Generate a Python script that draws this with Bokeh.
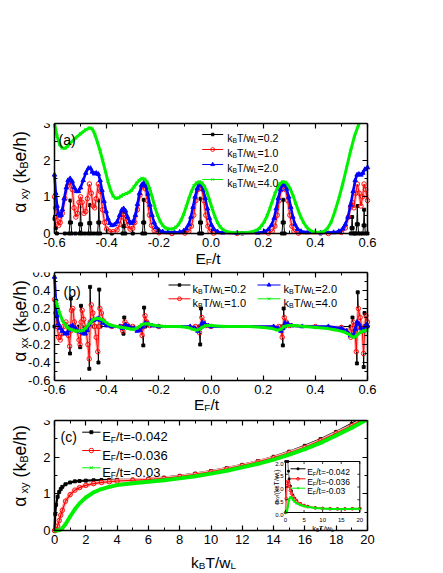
import math
from bokeh.plotting import figure
from bokeh.models import Range1d, LinearAxis, FixedTicker, Label
from bokeh.layouts import column
from bokeh.embed import file_html
from bokeh.resources import INLINE

FONT = "Liberation Sans"
NAN = float("nan")

# ---------------- panel (a): alpha_xy vs E_F/t ----------------
a_k02_x = [-0.600, -0.598, -0.595, -0.591,
           -0.560, -0.544, -0.541, -0.539, -0.537, -0.534,
           -0.520, -0.505, -0.502, -0.500, -0.498, -0.495,
           -0.483, -0.470, -0.467, -0.465, -0.463, -0.460,
           -0.448, -0.435, -0.432, -0.430, -0.428, -0.425,
           -0.380, -0.339, -0.336, -0.334, -0.332, -0.329,
           -0.300, -0.263, -0.260, -0.258, -0.256, -0.253,
           -0.150, -0.045, -0.042, -0.040, -0.038, -0.035,
           0.120, 0.272, 0.275, 0.277, 0.279, 0.282,
           0.420, 0.536, 0.539, 0.541, 0.543, 0.546,
           0.551, 0.556, 0.559, 0.561, 0.563, 0.566,
           0.574, 0.582, 0.585, 0.587, 0.589, 0.592,
           0.600]
a_k02_y = [0.40, 0.45, 0.15, 0.00,
           0.00, 0.00, 0.30, 0.90, 0.30, 0.00,
           0.00, 0.00, 0.25, 0.75, 0.25, 0.00,
           0.00, 0.00, 0.28, 0.78, 0.28, 0.00,
           0.00, 0.00, 0.30, 0.90, 0.30, 0.00,
           0.00, 0.00, 0.20, 0.57, 0.20, 0.00,
           0.00, 0.00, 0.30, 0.92, 0.30, 0.00,
           0.00, 0.00, 0.30, 0.95, 0.30, 0.00,
           0.00, 0.00, 0.30, 0.92, 0.30, 0.00,
           0.00, 0.00, 0.15, 0.45, 0.15, 0.00,
           0.00, 0.00, 0.25, 0.75, 0.25, 0.00,
           0.00, 0.00, 0.22, 0.65, 0.22, 0.00,
           0.00]

a_k10_x = [-0.600, -0.596, -0.590, -0.584, -0.578, -0.570, -0.560, -0.550, -0.540, -0.532,
           -0.525, -0.518, -0.512, -0.506, -0.500, -0.494, -0.487, -0.480, -0.474, -0.466,
           -0.459, -0.452, -0.446, -0.440, -0.432, -0.424, -0.416, -0.408, -0.400, -0.390,
           -0.375, -0.360, -0.350, -0.342, -0.335, -0.328, -0.320, -0.310, -0.300, -0.292,
           -0.282, -0.272, -0.264, -0.258, -0.252, -0.244, -0.236, -0.228, -0.218, -0.200,
           -0.150, -0.100, -0.085, -0.075, -0.066, -0.058, -0.050, -0.042, -0.035, -0.028,
           -0.020, -0.012, -0.004, 0.010, 0.100, 0.220, 0.235, 0.245, 0.254, 0.262,
           0.270, 0.278, 0.286, 0.294, 0.302, 0.310, 0.318, 0.335, 0.450, 0.500,
           0.515, 0.527, 0.535, 0.541, 0.548, 0.555, 0.561, 0.568, 0.575, 0.581,
           0.587, 0.593, 0.600]
a_k10_y = [1.00, 0.70, 0.35, 0.22, 0.30, 0.55, 0.95, 1.30, 1.40, 1.20,
           0.70, 0.45, 0.55, 0.85, 1.00, 0.85, 0.55, 0.60, 0.95, 1.35,
           1.10, 0.75, 0.70, 0.95, 1.35, 1.15, 0.65, 0.30, 0.12, 0.06,
           0.05, 0.10, 0.25, 0.45, 0.52, 0.42, 0.22, 0.12, 0.14, 0.30,
           0.65, 1.05, 1.28, 1.32, 1.22, 0.90, 0.50, 0.22, 0.08, 0.02,
           0.00, 0.01, 0.06, 0.20, 0.50, 0.90, 1.20, 1.32, 1.22, 0.90,
           0.50, 0.20, 0.06, 0.01, 0.00, 0.01, 0.06, 0.20, 0.50, 0.90,
           1.20, 1.32, 1.20, 0.90, 0.50, 0.20, 0.06, 0.01, 0.00, 0.03,
           0.15, 0.45, 0.72, 0.85, 0.70, 1.10, 1.35, 1.10, 0.75, 1.00,
           1.35, 1.20, 0.90]

a_k20_x = [-0.600, -0.595, -0.590, -0.585, -0.580, -0.575, -0.570, -0.563, -0.555, -0.548,
           -0.540, -0.532, -0.524, -0.516, -0.508, -0.500, -0.490, -0.480, -0.470, -0.462,
           -0.455, -0.447, -0.440, -0.432, -0.425, -0.418, -0.410, -0.402, -0.395, -0.388,
           -0.380, -0.370, -0.360, -0.350, -0.342, -0.335, -0.328, -0.320, -0.312, -0.305,
           -0.298, -0.290, -0.282, -0.274, -0.266, -0.258, -0.250, -0.242, -0.234, -0.226,
           -0.218, -0.210, -0.200, -0.185, -0.165, -0.140, -0.120, -0.105, -0.095, -0.085,
           -0.077, -0.069, -0.061, -0.053, -0.045, -0.038, -0.030, -0.022, -0.014, -0.006,
           0.002, 0.012, 0.025, 0.045, 0.100, 0.180, 0.205, 0.220, 0.232, 0.242,
           0.250, 0.258, 0.266, 0.274, 0.282, 0.290, 0.298, 0.306, 0.314, 0.322,
           0.332, 0.345, 0.370, 0.420, 0.470, 0.490, 0.505, 0.515, 0.525, 0.535,
           0.545, 0.553, 0.560, 0.567, 0.575, 0.582, 0.590, 0.600]
a_k20_y = [1.60, 1.10, 0.75, 0.55, 0.48, 0.50, 0.65, 0.95, 1.25, 1.45,
           1.50, 1.42, 1.25, 1.15, 1.15, 1.25, 1.45, 1.65, 1.78, 1.78,
           1.68, 1.63, 1.65, 1.62, 1.45, 1.18, 0.88, 0.60, 0.40, 0.28,
           0.22, 0.24, 0.32, 0.50, 0.64, 0.68, 0.62, 0.45, 0.32, 0.28,
           0.33, 0.50, 0.80, 1.10, 1.32, 1.38, 1.30, 1.08, 0.78, 0.50,
           0.30, 0.17, 0.09, 0.05, 0.03, 0.03, 0.04, 0.07, 0.13, 0.25,
           0.45, 0.72, 1.00, 1.22, 1.34, 1.33, 1.20, 0.96, 0.68, 0.42,
           0.23, 0.11, 0.05, 0.02, 0.01, 0.02, 0.05, 0.11, 0.23, 0.42,
           0.68, 0.96, 1.20, 1.33, 1.34, 1.22, 1.00, 0.72, 0.45, 0.25,
           0.12, 0.06, 0.03, 0.02, 0.03, 0.06, 0.13, 0.25, 0.45, 0.78,
           1.15, 1.45, 1.60, 1.62, 1.60, 1.65, 1.75, 1.80]

a_k40_x = [-0.600, -0.590, -0.580, -0.570, -0.560, -0.550, -0.540, -0.520, -0.500, -0.480,
           -0.465, -0.455, -0.445, -0.435, -0.425, -0.415, -0.405, -0.395, -0.385, -0.375,
           -0.365, -0.355, -0.345, -0.335, -0.325, -0.315, -0.305, -0.295, -0.285, -0.275,
           -0.265, -0.255, -0.245, -0.235, -0.225, -0.215, -0.205, -0.195, -0.185, -0.175,
           -0.165, -0.155, -0.145, -0.135, -0.125, -0.115, -0.105, -0.095, -0.085, -0.075,
           -0.065, -0.055, -0.045, -0.035, -0.025, -0.015, -0.005, 0.005, 0.015, 0.025,
           0.035, 0.045, 0.060, 0.080, 0.110, 0.140, 0.160, 0.175, 0.185, 0.195,
           0.205, 0.215, 0.225, 0.235, 0.245, 0.255, 0.265, 0.275, 0.285, 0.295,
           0.305, 0.315, 0.325, 0.335, 0.345, 0.355, 0.365, 0.375, 0.390, 0.410,
           0.430, 0.445, 0.460, 0.475, 0.490, 0.505, 0.520, 0.535, 0.550, 0.565,
           0.580, 0.590]
a_k40_y = [3.00, 2.65, 2.42, 2.33, 2.32, 2.38, 2.46, 2.60, 2.72, 2.83,
           2.88, 2.85, 2.70, 2.48, 2.25, 1.98, 1.70, 1.42, 1.18, 1.02,
           0.96, 0.97, 1.02, 1.06, 1.09, 1.12, 1.18, 1.27, 1.37, 1.45,
           1.50, 1.49, 1.40, 1.22, 0.98, 0.72, 0.50, 0.33, 0.22, 0.15,
           0.13, 0.12, 0.13, 0.17, 0.24, 0.36, 0.52, 0.73, 0.95, 1.15,
           1.30, 1.38, 1.41, 1.38, 1.28, 1.12, 0.90, 0.67, 0.46, 0.30,
           0.18, 0.11, 0.05, 0.03, 0.02, 0.03, 0.05, 0.09, 0.14, 0.22,
           0.33, 0.48, 0.67, 0.88, 1.08, 1.25, 1.36, 1.41, 1.40, 1.33,
           1.20, 1.02, 0.82, 0.62, 0.44, 0.30, 0.19, 0.11, 0.05, 0.03,
           0.05, 0.12, 0.30, 0.60, 0.95, 1.35, 1.80, 2.25, 2.65, 2.95,
           3.20, 3.35]

# ---------------- panel (b): alpha_xx vs E_F/t ----------------
b_k02_x = [-0.600, -0.590,
           -0.545, -0.5405, -0.5375, -0.533,
           -0.506, -0.5015, -0.4985, -0.494,
           -0.471, -0.4665, -0.4635, -0.459,
           -0.436, -0.4315, -0.4285, -0.424,
           -0.340, -0.3355, -0.3325, -0.328,
           -0.264, -0.2595, -0.2565, -0.252,
           -0.046, -0.0415, -0.0385, -0.034,
           0.271, 0.2755, 0.2785, 0.283,
           0.535, 0.5395, 0.5425, 0.547,
           0.555, 0.5595, 0.5625, 0.567,
           0.581, 0.5855, 0.5885, 0.593, 0.600]
b_k02_y = [0.00, 0.00,
           0.00, -0.30, 0.31, 0.00,
           0.00, -0.23, 0.23, 0.00,
           0.00, -0.47, 0.44, 0.00,
           0.00, -0.40, 0.41, 0.00,
           0.00, -0.08, 0.10, 0.00,
           0.00, -0.21, 0.21, 0.00,
           0.00, -0.20, 0.20, 0.00,
           0.00, -0.21, 0.20, 0.00,
           0.00, -0.10, 0.10, 0.00,
           0.00, -0.41, 0.38, 0.00,
           0.00, -0.45, 0.15, 0.00, 0.00]

b_k10_x = [-0.600, -0.595, -0.590, -0.584, -0.578, -0.572, -0.565, -0.556, -0.547, -0.542,
           -0.538, -0.535, -0.530, -0.524, -0.515, -0.506, -0.502, -0.498, -0.494, -0.488,
           -0.480, -0.472, -0.467, -0.463, -0.459, -0.453, -0.446, -0.440, -0.434, -0.430,
           -0.426, -0.420, -0.412, -0.400, -0.380, -0.345, -0.338, -0.334, -0.330, -0.322,
           -0.300, -0.272, -0.264, -0.259, -0.253, -0.246, -0.235, -0.200, -0.060, -0.050,
           -0.044, -0.040, -0.035, -0.029, -0.020, 0.000, 0.260, 0.268, 0.273, 0.277,
           0.281, 0.288, 0.300, 0.400, 0.500, 0.525, 0.536, 0.541, 0.546, 0.552,
           0.557, 0.561, 0.565, 0.572, 0.580, 0.585, 0.590, 0.594, 0.600]
b_k10_y = [0.30, 0.15, 0.00, -0.12, -0.15, -0.08, 0.00, 0.05, -0.10, -0.22,
           -0.05, 0.18, 0.20, 0.05, -0.03, -0.15, -0.20, 0.05, 0.18, 0.08,
           -0.02, -0.20, -0.36, 0.05, 0.24, 0.15, 0.00, -0.12, -0.28, 0.00,
           0.20, 0.15, 0.06, 0.02, 0.00, 0.00, -0.05, 0.00, 0.05, 0.02,
           0.00, -0.02, -0.10, 0.00, 0.12, 0.05, 0.01, 0.00, 0.00, -0.03,
           -0.07, 0.00, 0.10, 0.05, 0.01, 0.00, 0.00, -0.03, -0.12, 0.00,
           0.10, 0.05, 0.01, 0.00, -0.01, -0.05, -0.12, -0.02, 0.05, -0.05,
           -0.28, 0.00, 0.20, 0.10, -0.05, -0.30, 0.00, 0.12, 0.05]

b_k20_x = [-0.600, -0.595, -0.590, -0.585, -0.578, -0.570, -0.560, -0.552, -0.545, -0.538,
           -0.530, -0.520, -0.510, -0.500, -0.490, -0.482, -0.475, -0.468, -0.460, -0.450,
           -0.440, -0.432, -0.424, -0.415, -0.400, -0.380, -0.350, -0.340, -0.334, -0.328,
           -0.315, -0.295, -0.283, -0.272, -0.262, -0.252, -0.242, -0.225, -0.200, -0.080,
           -0.062, -0.050, -0.043, -0.034, -0.025, -0.010, 0.000, 0.240, 0.258, 0.268,
           0.275, 0.284, 0.295, 0.310, 0.350, 0.450, 0.500, 0.520, 0.535, 0.545,
           0.553, 0.560, 0.567, 0.575, 0.583, 0.590, 0.596, 0.600]
b_k20_y = [0.55, 0.30, 0.12, 0.03, -0.02, -0.05, -0.08, -0.08, -0.04, 0.00,
           0.01, -0.02, -0.05, -0.06, -0.08, -0.08, -0.04, 0.02, 0.06, 0.07,
           0.08, 0.09, 0.07, 0.04, 0.01, 0.00, 0.00, -0.02, 0.00, 0.02,
           0.00, -0.02, -0.05, -0.04, 0.00, 0.04, 0.03, 0.01, 0.00, 0.00,
           -0.02, -0.05, -0.02, 0.04, 0.03, 0.01, 0.00, 0.00, -0.02, -0.05,
           -0.02, 0.04, 0.03, 0.01, 0.00, 0.00, -0.02, -0.05, -0.10, -0.10,
           -0.03, 0.05, 0.03, -0.02, -0.05, 0.00, 0.02, 0.01]

b_k40_x = [-0.600, -0.595, -0.590, -0.580, -0.570, -0.560, -0.550, -0.540, -0.530, -0.520,
           -0.510, -0.500, -0.490, -0.480, -0.470, -0.460, -0.450, -0.440, -0.430, -0.420,
           -0.410, -0.400, -0.390, -0.380, -0.360, -0.340, -0.320, -0.305, -0.295, -0.285,
           -0.275, -0.265, -0.255, -0.245, -0.230, -0.210, -0.180, -0.120, -0.090, -0.070,
           -0.055, -0.045, -0.035, -0.020, 0.000, 0.050, 0.150, 0.200, 0.230, 0.255,
           0.268, 0.280, 0.295, 0.320, 0.360, 0.400, 0.440, 0.480, 0.510, 0.530,
           0.545, 0.555, 0.565, 0.575, 0.585, 0.600]
b_k40_y = [0.31, 0.28, 0.24, 0.15, 0.07, 0.02, -0.01, -0.03, -0.04, -0.05,
           -0.05, -0.05, -0.04, -0.02, 0.02, 0.05, 0.08, 0.09, 0.09, 0.08,
           0.06, 0.04, 0.02, 0.01, 0.00, -0.01, -0.02, -0.03, -0.03, -0.02,
           0.00, 0.02, 0.03, 0.03, 0.02, 0.01, 0.00, 0.00, -0.01, -0.03,
           -0.04, -0.03, -0.01, 0.01, 0.01, 0.00, 0.00, -0.01, -0.02, -0.04,
           -0.03, 0.00, 0.01, 0.01, 0.00, -0.01, -0.02, -0.04, -0.06, -0.09,
           -0.12, -0.11, -0.08, -0.06, -0.05, -0.04]

# ---------------- panel (c): alpha_xy vs k_BT/w_L ----------------
c_x = [0.0, 0.05, 0.1, 0.2, 0.3, 0.4, 0.5, 0.7, 1.0, 1.3, 1.6, 2.0, 2.5, 3.0, 3.5, 4.0,
       5.0, 6.0, 7.0, 8.0, 9.0, 10.0, 11.0, 12.0, 13.0, 14.0, 15.0, 16.0, 17.0, 18.0, 19.0, 20.0]
c_e042 = [0.00, 0.45, 0.70, 0.92, 1.05, 1.13, 1.19, 1.26, 1.31, 1.34, 1.35, 1.36, 1.37, 1.375, 1.38, 1.38,
          1.39, 1.41, 1.44, 1.49, 1.55, 1.62, 1.70, 1.79, 1.89, 2.01, 2.15, 2.31, 2.49, 2.69, 2.91, 3.15]
c_e036 = [0.00, 0.00, 0.02, 0.12, 0.27, 0.42, 0.55, 0.80, 0.98, 1.10, 1.17, 1.23, 1.28, 1.31, 1.33, 1.35,
          1.37, 1.39, 1.42, 1.47, 1.53, 1.60, 1.68, 1.77, 1.87, 1.98, 2.12, 2.27, 2.45, 2.65, 2.86, 3.10]
c_e030 = [0.00, 0.00, 0.00, 0.00, 0.01, 0.03, 0.06, 0.17, 0.38, 0.58, 0.74, 0.90, 1.04, 1.13, 1.19, 1.24,
          1.29, 1.33, 1.37, 1.42, 1.48, 1.55, 1.63, 1.72, 1.82, 1.93, 2.07, 2.22, 2.39, 2.59, 2.80, 3.03]

# inset: alpha_xy/(k_BT/w_L) vs k_BT/w_L (visible part only; black leaves the top of the box)
ins_x = [0.0, 0.2, 0.4, 0.6, 0.8, 1.0, 1.3, 1.6, 2.0, 2.5, 3.0, 4.0, 5.0, 6.0, 8.0, 10.0, 12.0, 14.0, 16.0, 18.0, 20.0]
ins_x_e042 = [0.0, 0.05, NAN, 0.62, 0.8, 1.0, 1.3, 1.6, 2.0, 2.5, 3.0, 4.0, 5.0, 6.0, 8.0, 10.0, 12.0, 14.0, 16.0, 18.0, 20.0]
ins_e042 = [0.0, 2.0, NAN, 2.0, 1.62, 1.32, 1.04, 0.85, 0.68, 0.55, 0.46, 0.35, 0.28, 0.235, 0.185, 0.162, 0.148, 0.142, 0.142, 0.147, 0.155]
ins_e036 = [0.0, 0.55, 1.05, 1.22, 1.18, 1.02, 0.86, 0.74, 0.62, 0.52, 0.44, 0.34, 0.275, 0.232, 0.184, 0.160, 0.147, 0.141, 0.141, 0.146, 0.153]
ins_e030 = [0.0, 0.0, 0.06, 0.22, 0.40, 0.52, 0.60, 0.58, 0.50, 0.42, 0.36, 0.29, 0.25, 0.215, 0.175, 0.155, 0.143, 0.138, 0.139, 0.144, 0.150]

# ---------------- ticks / ranges / legend texts ----------------
ef_range = (-0.6, 0.6)
ef_ticks = [-0.6, -0.4, -0.2, 0.0, 0.2, 0.4, 0.6]
ef_labels = ["-0.6", "-0.4", "-0.2", "0.0", "0.2", "0.4", "0.6"]
ef_minor = [-0.5, -0.3, -0.1, 0.1, 0.3, 0.5]
a_yrange = (0.0, 3.0)
a_yticks = [0, 1, 2, 3]
a_ylabels = ["0", "1", "2", "3"]
a_yminor = [0.5, 1.5, 2.5]
b_yrange = (-0.6, 0.6)
b_yticks = [-0.6, -0.4, -0.2, 0.0, 0.2, 0.4, 0.6]
b_ylabels = ["-0.6", "-0.4", "-0.2", "0.0", "0.2", "0.4", "0.6"]
b_yminor = [-0.5, -0.3, -0.1, 0.1, 0.3, 0.5]
c_xrange = (0.0, 20.0)
c_xticks = [0, 2, 4, 6, 8, 10, 12, 14, 16, 18, 20]
c_xlabels = ["0", "2", "4", "6", "8", "10", "12", "14", "16", "18", "20"]
c_xminor = [1, 3, 5, 7, 9, 11, 13, 15, 17, 19]
c_yrange = (0.0, 3.0)
c_yticks = [0, 1, 2, 3]
c_ylabels = ["0", "1", "2", "3"]
c_yminor = [0.5, 1.5, 2.5]
ins_xrange = (0.0, 20.0)
ins_yrange = (0.0, 2.0)
ins_xticks = [0, 5, 10, 15, 20]
ins_xlabels = ["0", "5", "10", "15", "20"]
ins_yticks = [0.0, 0.5, 1.0, 1.5, 2.0]
ins_ylabels = ["0.0", "0.5", "1.0", "1.5", "2.0"]
temps = ["0.2", "1.0", "2.0", "4.0"]
efs = ["-0.042", "-0.036", "-0.03"]

for xs, ys in [(a_k02_x, a_k02_y), (a_k10_x, a_k10_y), (a_k20_x, a_k20_y), (a_k40_x, a_k40_y),
               (b_k02_x, b_k02_y), (b_k10_x, b_k10_y), (b_k20_x, b_k20_y), (b_k40_x, b_k40_y),
               (c_x, c_e042), (c_x, c_e036), (c_x, c_e030),
               (ins_x_e042, ins_e042), (ins_x, ins_e036), (ins_x, ins_e030)]:
    assert len(xs) == len(ys), (len(xs), len(ys))

# ---------------- geometry (page pixels; the page has no margin) ----------------
PAGE_W = 428
FRAME_R = 382          # frame reaches a little past the box so the last tick label is not clipped
GA = dict(l=54, r=367, t=123, b=233, x0=ef_range[0], x1=ef_range[1], y0=a_yrange[0], y1=a_yrange[1])
GB = dict(l=54, r=367, t=272, b=380, x0=ef_range[0], x1=ef_range[1], y0=b_yrange[0], y1=b_yrange[1])
GC = dict(l=54, r=367, t=420, b=530, x0=c_xrange[0], x1=c_xrange[1], y0=c_yrange[0], y1=c_yrange[1])
GI = dict(l=285, r=359.3, t=461, b=512, x0=ins_xrange[0], x1=ins_xrange[1], y0=ins_yrange[0], y1=ins_yrange[1])
CA = (0, 266)
CB = (266, 412)
CC = (412, 573)


def to_data(g, px, py):
    x = g["x0"] + (px - g["l"]) / (g["r"] - g["l"]) * (g["x1"] - g["x0"])
    y = g["y0"] + (g["b"] - py) / (g["b"] - g["t"]) * (g["y1"] - g["y0"])
    return x, y


W = {' ': 0.278, '(': 0.333, ')': 0.333, '/': 0.278, '=': 0.584, '-': 0.333, '.': 0.278,
     'a': 0.556, 'b': 0.556, 'c': 0.5, 'e': 0.556, 'h': 0.556, 'k': 0.5, 't': 0.278, 'w': 0.722,
     'x': 0.5, 'y': 0.5, 'B': 0.667, 'E': 0.667, 'F': 0.611, 'L': 0.556, 'T': 0.611, 'α': 0.58}
SUB_SCALE = 0.64
SUB_DROP = 0.22


def tw(s, size):
    return sum(W.get(ch, 0.556) for ch in s) * size


def rich(p, g, px, py, segs, size, angle=0.0, align="left", xr="default", yr="default"):
    sizes = [size * (SUB_SCALE if sub else 1.0) for _, sub in segs]
    widths = [tw(t, s) for (t, _), s in zip(segs, sizes)]
    total = sum(widths)
    off = {"left": 0.0, "center": -total / 2.0, "right": -total}[align]
    for (t, sub), s, w in zip(segs, sizes, widths):
        lead = len(t) - len(t.lstrip(" "))
        o = off + lead * W[" "] * s
        drop = size * SUB_DROP if sub else 0.0
        if angle == 0.0:
            qx, qy = px + o, py + drop
        else:
            qx, qy = px + drop, py - o
        x, y = to_data(g, qx, qy)
        p.add_layout(Label(x=x, y=y, text=t.strip(), text_font=FONT, text_font_size=f"{s:.2f}px",
                           text_align="left", text_baseline="alphabetic", angle=angle,
                           text_color="black", x_range_name=xr, y_range_name=yr))
        off += w


STY = {
    "k02": dict(color="#000000", lw=1.0, under=None, marker="square", ms=3.0, fill="#000000"),
    "k10": dict(color="#FF0000", lw=1.0, under="#FFB0B0", marker="circle", ms=4.5, fill=None),
    "k20": dict(color="#0000FF", lw=2.6, under=None, marker="triangle", ms=4.5, fill="#0000FF"),
    "k40": dict(color="#00F000", lw=3.0, under=None, marker="x", ms=4.5, fill=None),
}


def draw(p, x, y, key, scale=1.0, xr="default", yr="default", mscale=None):
    s = STY[key]
    kw = dict(x_range_name=xr, y_range_name=yr)
    if s["under"]:
        p.line(x, y, line_color=s["under"], line_width=3.2 * scale, **kw)
    p.line(x, y, line_color=s["color"], line_width=s["lw"] * scale, **kw)
    ms = s["ms"] * (mscale if mscale is not None else scale)
    p.scatter(x, y, marker=s["marker"], size=ms, line_color=s["color"],
              fill_color=s["fill"], line_width=0.9, **kw)


def sample(p, g, px0, px1, py, key, scale=1.0, xr="default", yr="default"):
    s = STY[key]
    xa, ya = to_data(g, px0, py)
    xb, _ = to_data(g, px1, py)
    kw = dict(x_range_name=xr, y_range_name=yr)
    p.line([xa, xb], [ya, ya], line_color=s["color"], line_width=1.0, **kw)
    p.scatter([(xa + xb) / 2.0], [ya], marker=s["marker"], size=s["ms"] * scale,
              line_color=s["color"], fill_color=s["fill"], line_width=0.9, **kw)


def style_axis(ax, ticks, minor, labels, bounds, show=True):
    ax.ticker = FixedTicker(ticks=ticks, minor_ticks=minor)
    ax.major_label_overrides = {float(t): l for t, l in zip(ticks, labels)}
    ax.bounds = bounds
    ax.major_tick_in = 5
    ax.major_tick_out = 0
    ax.minor_tick_in = 3
    ax.minor_tick_out = 0
    ax.axis_line_width = 1.5
    ax.axis_line_color = "black"
    ax.major_tick_line_width = 1.2
    ax.minor_tick_line_width = 1.0
    ax.major_label_text_font = FONT
    if show:
        ax.major_label_text_color = "black"
        ax.major_label_text_font_size = "13px"
        ax.major_label_standoff = 4
    else:
        ax.major_label_text_color = None
        ax.major_label_text_font_size = "2px"
        ax.major_label_standoff = 0


def make_fig(g, canvas, xt, xm, xl, yt, ym, yl):
    ctop, cbot = canvas
    # frame: canvas left edge .. a bit past the box right edge; box top .. canvas bottom
    xs, _ = to_data(g, 0, 0)
    xe, _ = to_data(g, FRAME_R, 0)
    _, ys = to_data(g, 0, cbot)
    p = figure(width=PAGE_W, height=cbot - ctop,
               x_range=Range1d(xs, xe), y_range=Range1d(ys, g["y1"]),
               min_border_left=0, min_border_right=PAGE_W - FRAME_R,
               min_border_top=g["t"] - ctop, min_border_bottom=0,
               output_backend="svg", toolbar_location=None, tools="")
    p.xgrid.visible = False
    p.ygrid.visible = False
    p.outline_line_color = None
    p.background_fill_color = "white"
    p.border_fill_color = "white"
    bx = p.xaxis[0]
    style_axis(bx, xt, xm, xl, (g["x0"], g["x1"]))
    bx.fixed_location = g["y0"]
    ly = p.yaxis[0]
    style_axis(ly, yt, ym, yl, (g["y0"], g["y1"]))
    ly.fixed_location = g["x0"]
    top_ax = LinearAxis()
    style_axis(top_ax, xt, xm, xl, (g["x0"], g["x1"]), show=False)
    p.add_layout(top_ax, "above")
    right_ax = LinearAxis()
    style_axis(right_ax, yt, ym, yl, (g["y0"], g["y1"]), show=False)
    right_ax.fixed_location = g["x1"]
    p.add_layout(right_ax, "right")
    return p


def ylabel(p, g, cy, mid):
    rich(p, g, 19.5, cy, [("α", False), (" " + mid, True), (" (k", False), ("B", True), ("e/h)", False)],
         17.5, angle=math.pi / 2, align="center")


def kbt(val):
    return [("k", False), ("B", True), ("T/w", False), ("L", True), ("=" + val, False)]


def efl(val):
    return [("E", False), ("F", True), ("/t=" + val, False)]


# ================= panel (a) =================
pa = make_fig(GA, CA, ef_ticks, ef_minor, ef_labels, a_yticks, a_yminor, a_ylabels)
draw(pa, a_k02_x, a_k02_y, "k02")
draw(pa, a_k10_x, a_k10_y, "k10")
draw(pa, a_k20_x, a_k20_y, "k20")
draw(pa, a_k40_x, a_k40_y, "k40")
rows_a = [134, 149, 164, 179]
for key, t, yc in zip(["k02", "k10", "k20", "k40"], temps, rows_a):
    sample(pa, GA, 201.7, 222.7, yc, key, scale=0.85)
    rich(pa, GA, 226.7, yc + 0.36 * 10.5, kbt(t), 10.5)
rich(pa, GA, 58, 139, [("(a)", False)], 14)
ylabel(pa, GA, 171.5, "xy")
rich(pa, GA, 207.5, 258, [("E", False), ("F", True), ("/t", False)], 15.5, align="center")

# ================= panel (b) =================
pb = make_fig(GB, CB, ef_ticks, ef_minor, ef_labels, b_yticks, b_yminor, b_ylabels)
draw(pb, b_k02_x, b_k02_y, "k02")
draw(pb, b_k10_x, b_k10_y, "k10")
draw(pb, b_k20_x, b_k20_y, "k20")
draw(pb, b_k40_x, b_k40_y, "k40")
leg_b = [("k02", temps[0], 168, 190, 192, 284.5), ("k10", temps[1], 168, 190, 192, 298.3),
         ("k20", temps[2], 257, 280, 283, 284.5), ("k40", temps[3], 257, 280, 283, 298.3)]
for key, t, x0, x1, xt_, yc in leg_b:
    sample(pb, GB, x0, x1, yc, key, scale=0.85)
    rich(pb, GB, xt_, yc + 0.36 * 11, kbt(t), 11)
rich(pb, GB, 63, 291, [("(b)", False)], 14)
ylabel(pb, GB, 320.5, "xx")
rich(pb, GB, 206, 404, [("E", False), ("F", True), ("/t", False)], 15.5, align="center")

# ================= panel (c) =================
pc = make_fig(GC, CC, c_xticks, c_xminor, c_xlabels, c_yticks, c_yminor, c_ylabels)
draw(pc, c_x, c_e042, "k02", scale=2.2, mscale=1.0)
draw(pc, c_x, c_e036, "k10", scale=1.2, mscale=1.0)
draw(pc, c_x, c_e030, "k40", scale=1.3, mscale=1.0)
rows_c = [431.7, 450.0, 467.3]
for key, e, yc in zip(["k02", "k10", "k40"], efs, rows_c):
    sample(pc, GC, 81.7, 100.0, yc, key)
    rich(pc, GC, 101.7, yc + 0.36 * 13, efl(e), 13)
rich(pc, GC, 60, 436, [("(c)", False)], 14)
ylabel(pc, GC, 465.5, "xy")
rich(pc, GC, 213, 562, [("k", False), ("B", True), ("T/w", False), ("L", True)], 15.5, align="center")

# ---- inset inside panel (c), on its own extra ranges ----
ix0, _ = to_data(GI, 0, 0)
ix1, _ = to_data(GI, FRAME_R, 0)
_, iy0 = to_data(GI, 0, CC[1])
_, iy1 = to_data(GI, 0, GC["t"])
pc.extra_x_ranges = {"ix": Range1d(ix0, ix1)}
pc.extra_y_ranges = {"iy": Range1d(iy0, iy1)}
IK = dict(x_range_name="ix", y_range_name="iy")
pc.quad(left=[ins_xrange[0]], right=[ins_xrange[1]], bottom=[ins_yrange[0]], top=[ins_yrange[1]],
        fill_color="white", line_color="black", line_width=1.0, **IK)
draw(pc, ins_x_e042, ins_e042, "k02", scale=0.6, xr="ix", yr="iy")
draw(pc, ins_x, ins_e036, "k10", scale=0.6, xr="ix", yr="iy")
draw(pc, ins_x, ins_e030, "k40", scale=0.7, xr="ix", yr="iy")
# inset ticks (inward, all sides)
pxx = (GI["r"] - GI["l"]) / (GI["x1"] - GI["x0"])
pxy = (GI["b"] - GI["t"]) / (GI["y1"] - GI["y0"])
tl = 2.5
xt0 = [t for t in ins_xticks] * 2
yt0 = [ins_yrange[0]] * len(ins_xticks) + [ins_yrange[1]] * len(ins_xticks)
yt1 = [ins_yrange[0] + tl / pxy] * len(ins_xticks) + [ins_yrange[1] - tl / pxy] * len(ins_xticks)
pc.segment(x0=xt0, y0=yt0, x1=xt0, y1=yt1, line_color="black", line_width=0.8, **IK)
ys0 = [t for t in ins_yticks] * 2
xs0 = [ins_xrange[0]] * len(ins_yticks) + [ins_xrange[1]] * len(ins_yticks)
xs1 = [ins_xrange[0] + tl / pxx] * len(ins_yticks) + [ins_xrange[1] - tl / pxx] * len(ins_yticks)
pc.segment(x0=xs0, y0=ys0, x1=xs1, y1=ys0, line_color="black", line_width=0.8, **IK)
for t, l in zip(ins_xticks, ins_xlabels):
    px = GI["l"] + (t - GI["x0"]) * pxx
    rich(pc, GI, px, 519, [(l, False)], 6, align="center", xr="ix", yr="iy")
for t, l in zip(ins_yticks, ins_ylabels):
    py = GI["b"] - (t - GI["y0"]) * pxy
    rich(pc, GI, 283, py + 2.1, [(l, False)], 6, align="right", xr="ix", yr="iy")
rich(pc, GI, 322.5, 528, [("k", False), ("B", True), ("T/w", False), ("L", True)], 7.5,
     align="center", xr="ix", yr="iy")
rich(pc, GI, 275.5, 486.5, [("α", False), ("xy", True), ("/(k", False), ("B", True), ("T/w", False),
                             ("L", True), (")", False)], 7, angle=math.pi / 2, align="center", xr="ix", yr="iy")
rows_i = [468.3, 478.3, 487.7]
for key, e, yc in zip(["k02", "k10", "k40"], efs, rows_i):
    sample(pc, GI, 290, 305, yc, key, scale=0.6, xr="ix", yr="iy")
    rich(pc, GI, 306.7, yc + 0.36 * 8.5, efl(e), 8.5, xr="ix", yr="iy")

layout = column(pa, pb, pc, spacing=0)
with open("out.html", "w") as f:
    f.write(file_html(layout, INLINE))
